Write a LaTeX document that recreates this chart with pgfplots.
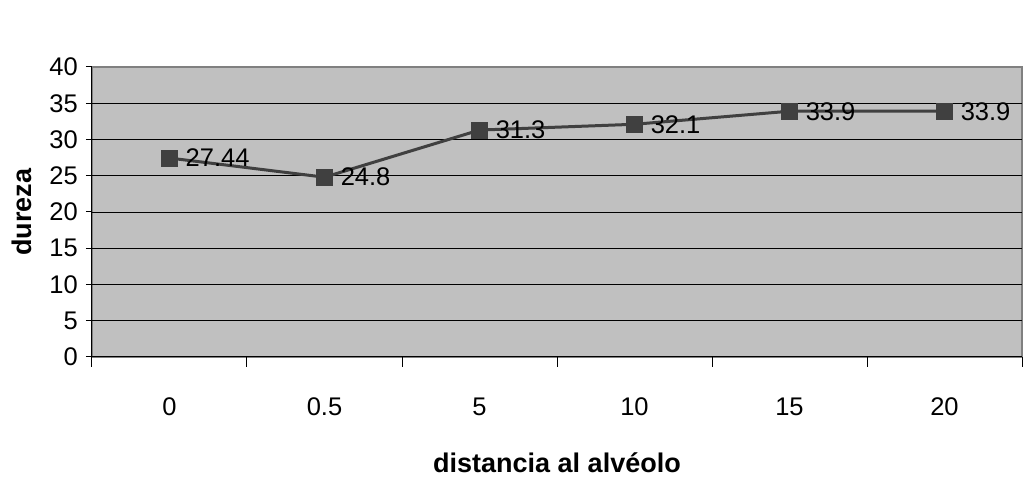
\documentclass[border=0pt]{standalone}
\usepackage{pgfplots}
\pgfplotsset{compat=1.18}
\usepackage{fontspec}
\setmainfont{Liberation Sans}
\definecolor{plotbg}{HTML}{C0C0C0}
\definecolor{series}{HTML}{404040}
\definecolor{frame}{HTML}{808080}

\begin{document}
\begin{tikzpicture}
\useasboundingbox (0,0) rectangle (1026pt,495pt);
\begin{axis}[
  at={(92pt,138pt)}, anchor=south west,
  scale only axis, width=930pt, height=290pt,
  xmin=-0.5, xmax=5.5, ymin=0, ymax=40,
  axis lines=left, axis line style={black, line width=1pt, -},
  axis background/.style={fill=plotbg, draw=frame, line width=1.5pt},
  xtick={0,1,2,3,4,5},
  xticklabels={0,0.5,5,10,15,20},
  minor xtick={-0.5,0.5,1.5,2.5,3.5,4.5,5.5},
  ytick={0,5,...,40},
  tick align=outside,
  major x tick style={draw=none},
  minor x tick style={black, line width=1pt},
  minor tick length=10pt,
  major y tick style={black, line width=1pt},
  major tick length=6pt,
  extra y ticks={5,10,...,35},
  extra y tick labels={},
  extra y tick style={grid=major, major tick length=0pt},
  major grid style={black, line width=0.9pt},
  /pgf/number format/assume math mode=true,
  tick label style={font=\fontsize{25.5}{29}\selectfont},
  xticklabel style={anchor=center, yshift=-44pt},
  yticklabel style={anchor=east, inner sep=0pt, xshift=-8pt},
  xlabel={distancia al alvéolo},
  ylabel={dureza},
  label style={font=\fontsize{27}{31}\selectfont\bfseries},
  xlabel style={at={(axis description cs:0.5,-0.3655)}, anchor=center},
  ylabel style={at={(axis description cs:-0.0753,0.5)}, anchor=center, rotate=0},
  clip=false,
]
\addplot[
  color=series, line width=3pt,
  mark=square*, mark size=8pt,
  mark options={fill=series, draw=series, line width=0.5pt},
  nodes near coords, point meta=explicit symbolic,
  nodes near coords style={anchor=west, xshift=16pt, inner sep=0pt,
    text=black, font=\fontsize{25.5}{29}\selectfont},
] table[meta=lab] {
x y lab
0 27.44 27.44
1 24.8 24.8
2 31.3 31.3
3 32.1 32.1
4 33.9 33.9
5 33.9 33.9
};
\end{axis}
\end{tikzpicture}
\end{document}
